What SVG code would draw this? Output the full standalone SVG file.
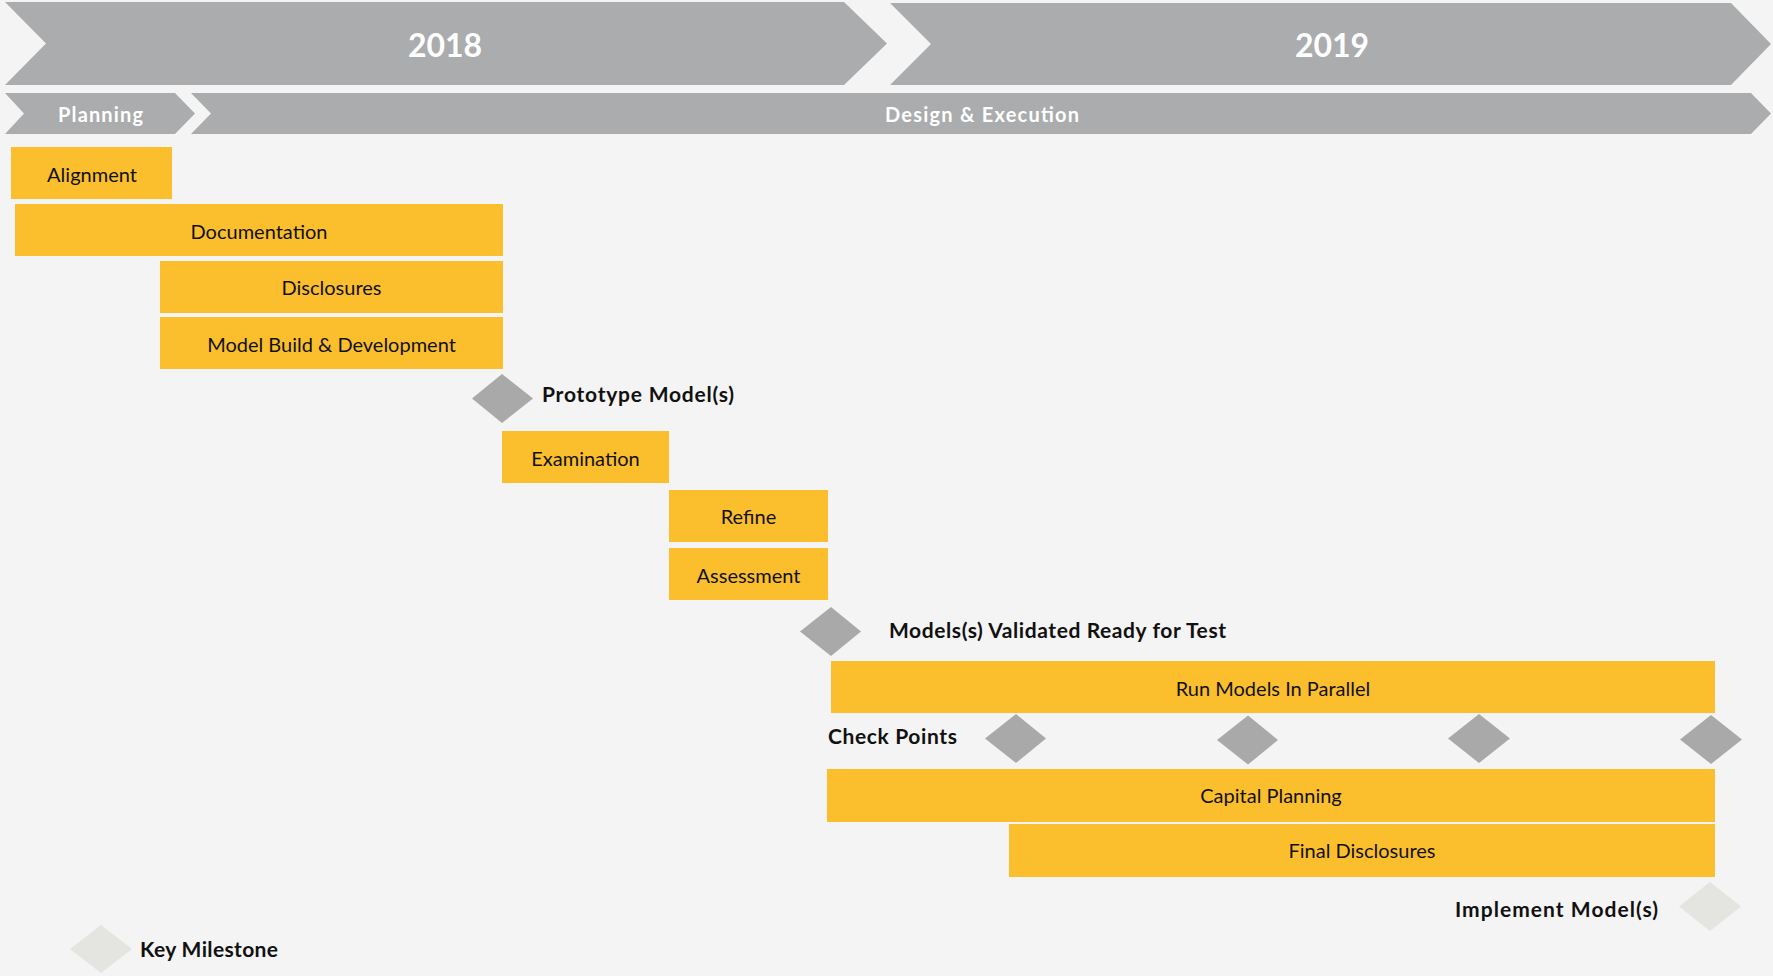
<svg xmlns="http://www.w3.org/2000/svg" width="1773" height="976" viewBox="0 0 1773 976">
  <style>
    .chev { fill: #ABACAD; }
    .bar { fill: #FBBF2D; }
    .ms { fill: #A9A9A9; }
    .key { fill: #E4E4E1; }
    .hdr { font-family: Lato, "Liberation Sans", sans-serif; font-weight: bold; fill: #FFFFFF; text-anchor: middle; }
    .yr { font-size: 32px; }
    .ph { font-size: 20px; }
    .lbl { font-family: Lato, "Liberation Sans", sans-serif; font-size: 20px; fill: #111111; text-anchor: middle; }
    .bold { font-family: Lato, "Liberation Sans", sans-serif; font-size: 21px; font-weight: bold; fill: #111111; }
  </style>
  <rect x="0" y="0" width="1773" height="976" fill="#F4F4F4"/>

  <g id="year-2018">
    <polygon class="chev" points="5,2 844,2 887,43.5 844,85 5,85 46,43.5"/>
    <text class="hdr yr" x="445" y="57">2018</text>
  </g>
  <g id="year-2019">
    <polygon class="chev" points="890,3 1731,3 1771,44 1731,85 890,85 931,44"/>
    <text class="hdr yr" x="1332" y="57">2019</text>
  </g>
  <g id="phase-planning">
    <polygon class="chev" points="5,93 175,93 195,113.5 175,134 5,134 24,113.5"/>
    <text class="hdr ph" x="100.5" y="122" textLength="85">Planning</text>
  </g>
  <g id="phase-design">
    <polygon class="chev" points="191,93 1751,93 1771,113.5 1751,134 191,134 211,113.5"/>
    <text class="hdr ph" x="982" y="122" textLength="194">Design &amp; Execution</text>
  </g>

  <g id="task-alignment">
    <rect class="bar" x="11" y="147" width="161" height="52"/>
    <text class="lbl" x="92" y="182">Alignment</text>
  </g>
  <g id="task-documentation">
    <rect class="bar" x="15" y="204" width="488" height="52"/>
    <text class="lbl" x="259" y="239">Documentation</text>
  </g>
  <g id="task-disclosures">
    <rect class="bar" x="160" y="261" width="343" height="52"/>
    <text class="lbl" x="331.5" y="295">Disclosures</text>
  </g>
  <g id="task-model-build">
    <rect class="bar" x="160" y="317" width="343" height="52"/>
    <text class="lbl" x="331.5" y="352">Model Build &amp; Development</text>
  </g>
  <g id="milestone-prototype">
    <polygon class="ms" points="472,398.5 502,374 533,398.5 502,423"/>
    <text class="bold" x="542" y="402" textLength="192">Prototype Model(s)</text>
  </g>
  <g id="task-examination">
    <rect class="bar" x="502" y="431" width="167" height="52"/>
    <text class="lbl" x="585.5" y="466">Examination</text>
  </g>
  <g id="task-refine">
    <rect class="bar" x="669" y="490" width="159" height="52"/>
    <text class="lbl" x="748.5" y="524">Refine</text>
  </g>
  <g id="task-assessment">
    <rect class="bar" x="669" y="548" width="159" height="52"/>
    <text class="lbl" x="748.5" y="583">Assessment</text>
  </g>
  <g id="milestone-validated">
    <polygon class="ms" points="800,631.5 831,607 861,631.5 831,656"/>
    <text class="bold" x="889" y="638" textLength="337">Models(s) Validated Ready for Test</text>
  </g>
  <g id="task-run-models">
    <rect class="bar" x="831" y="661" width="884" height="52"/>
    <text class="lbl" x="1273" y="696">Run Models In Parallel</text>
  </g>
  <g id="checkpoints">
    <text class="bold" x="828" y="744" textLength="129">Check Points</text>
    <polygon class="ms" points="985,738.5 1016,714 1046,738.5 1016,763"/>
    <polygon class="ms" points="1217,740 1248,715.5 1278,740 1248,764.5"/>
    <polygon class="ms" points="1448,738.5 1479,714 1510,738.5 1479,763"/>
    <polygon class="ms" points="1680,739.5 1711,715 1742,739.5 1711,764"/>
  </g>
  <g id="task-capital-planning">
    <rect class="bar" x="827" y="769" width="888" height="53"/>
    <text class="lbl" x="1271" y="803">Capital Planning</text>
  </g>
  <g id="task-final-disclosures">
    <rect class="bar" x="1009" y="824" width="706" height="53"/>
    <text class="lbl" x="1362" y="858">Final Disclosures</text>
  </g>
  <g id="milestone-implement">
    <polygon class="key" points="1679,906.5 1710,882 1741,906.5 1710,931"/>
    <text class="bold" x="1455" y="917" textLength="203">Implement Model(s)</text>
  </g>
  <g id="legend-key-milestone">
    <polygon class="key" points="70,949 101,925 132,949 101,973"/>
    <text class="bold" x="140" y="957" textLength="138">Key Milestone</text>
  </g>
  <g id="connectors"/>
</svg>
